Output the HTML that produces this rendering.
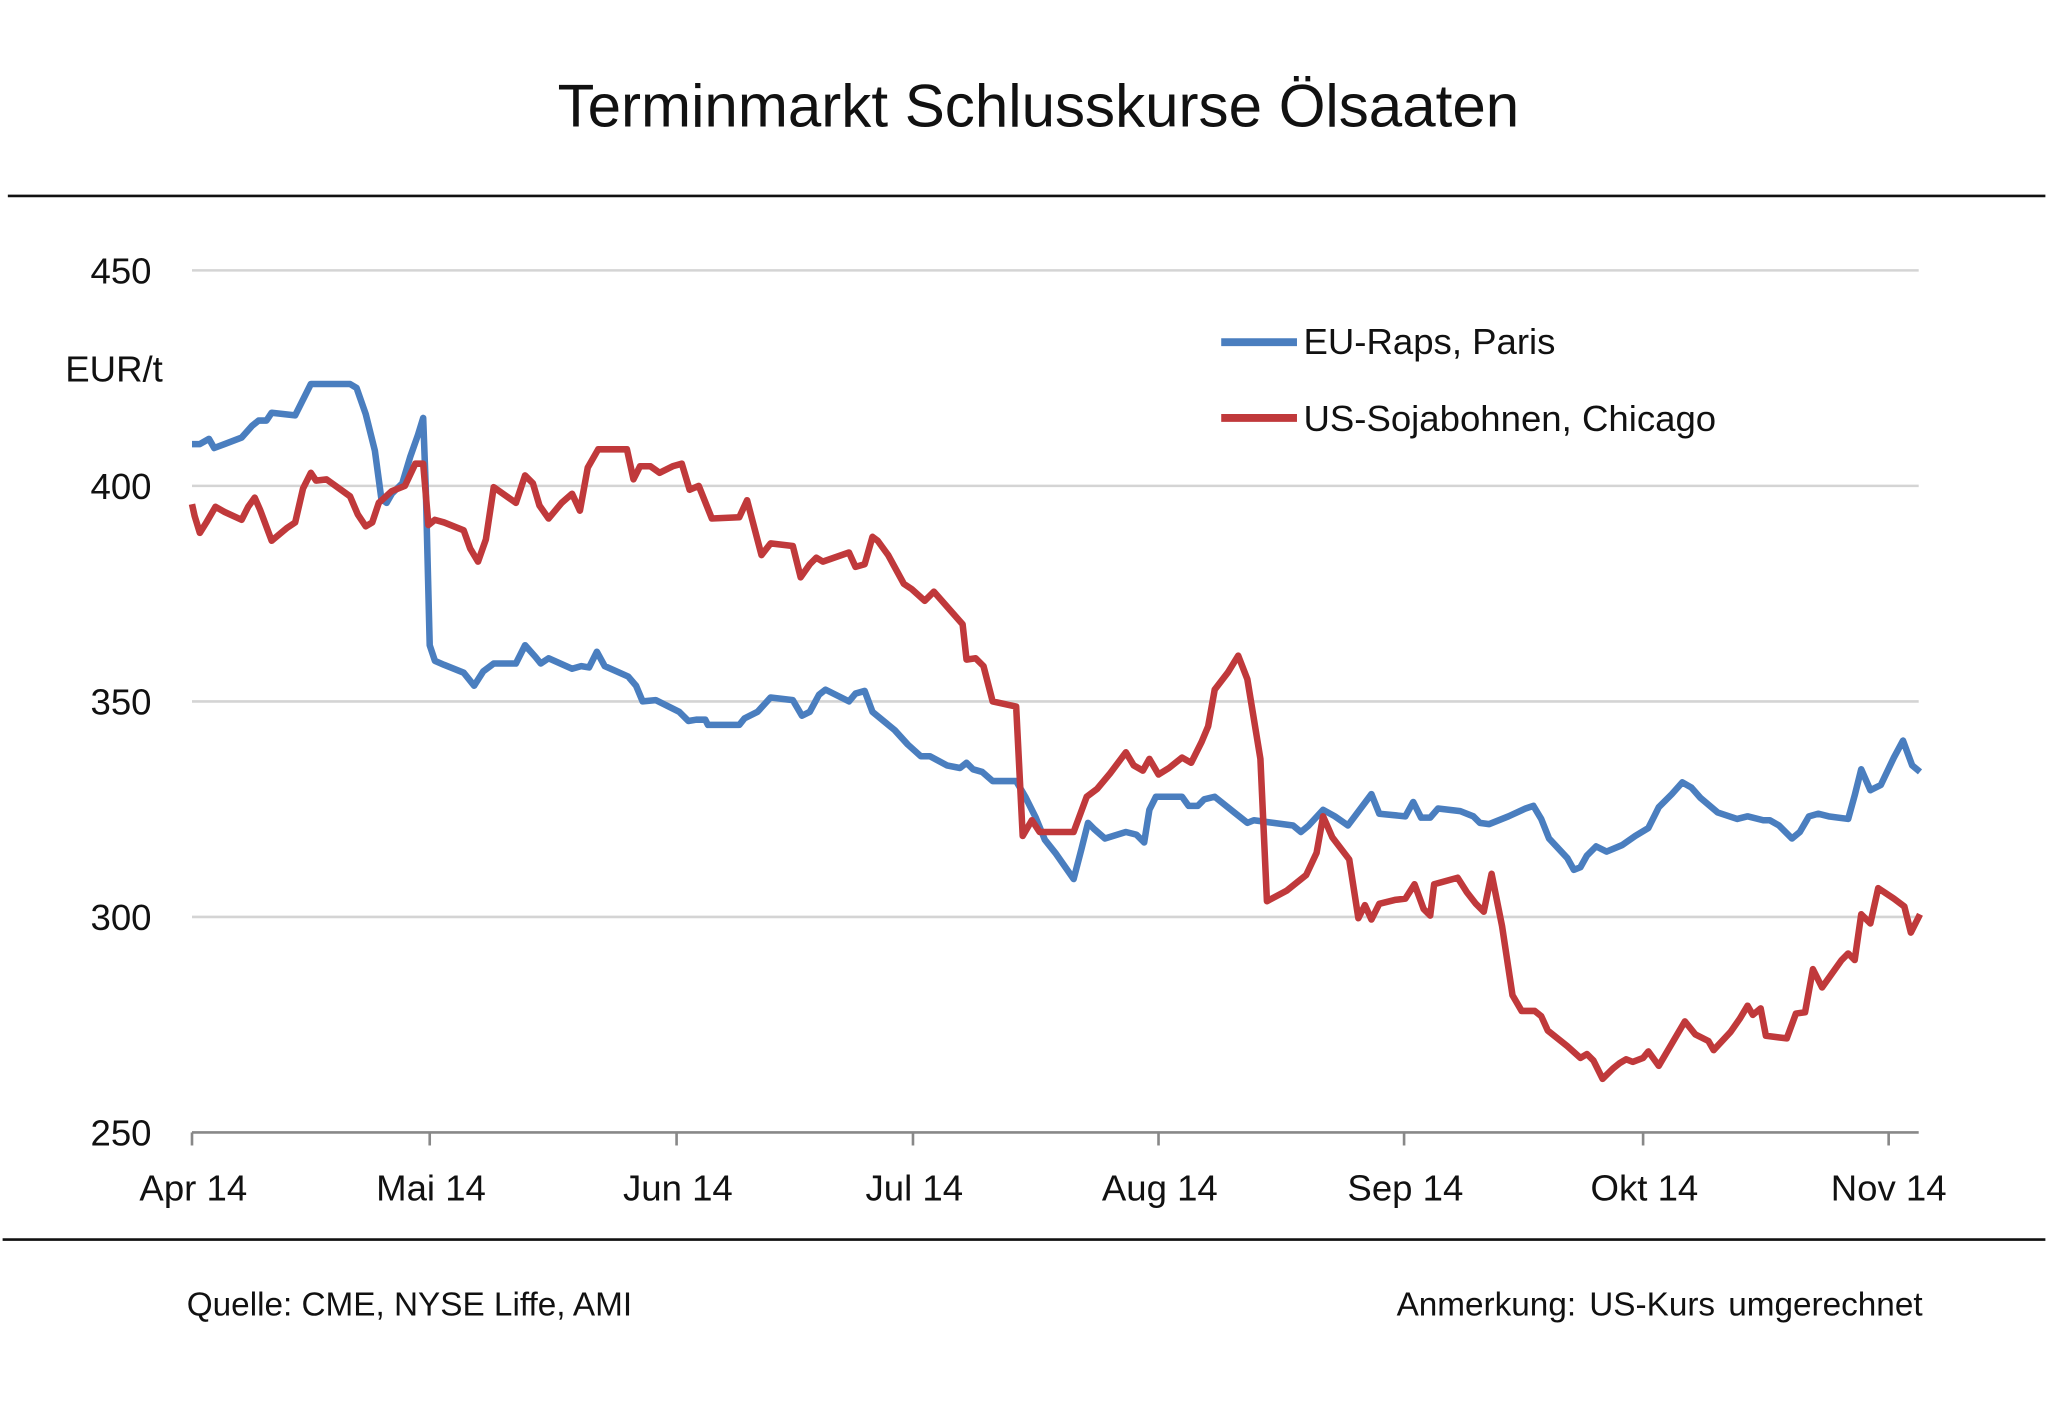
<!DOCTYPE html>
<html><head><meta charset="utf-8"><style>
html,body{margin:0;padding:0;background:#fff;}
svg{display:block;}
text{font-family:"Liberation Sans",sans-serif;fill:#111;}
</style></head><body>
<svg width="2048" height="1402" viewBox="0 0 1568 1073.4" preserveAspectRatio="none">
<text x="795" y="97" font-size="46" text-anchor="middle" font-weight="300">Terminmarkt Schlusskurse  Ölsaaten</text>
<line x1="6" y1="150" x2="1566" y2="150" stroke="#111" stroke-width="2"/>
<line x1="2" y1="949" x2="1566" y2="949" stroke="#111" stroke-width="2"/>
<g stroke="#d4d4d4" stroke-width="2">
<line x1="147" y1="207" x2="1469" y2="207"/>
<line x1="147" y1="372" x2="1469" y2="372"/>
<line x1="147" y1="537" x2="1469" y2="537"/>
<line x1="147" y1="702" x2="1469" y2="702"/>
</g>
<line x1="147" y1="867" x2="1469" y2="867" stroke="#888" stroke-width="2"/>
<g stroke="#888" stroke-width="2">
<line x1="147" y1="867" x2="147" y2="877"/><line x1="329" y1="867" x2="329" y2="877"/>
<line x1="518" y1="867" x2="518" y2="877"/><line x1="699" y1="867" x2="699" y2="877"/>
<line x1="887" y1="867" x2="887" y2="877"/><line x1="1075" y1="867" x2="1075" y2="877"/>
<line x1="1258" y1="867" x2="1258" y2="877"/><line x1="1446" y1="867" x2="1446" y2="877"/>
</g>
<g font-size="28" text-anchor="end">
<text x="116" y="217">450</text><text x="116" y="382">400</text><text x="116" y="547">350</text>
<text x="116" y="712">300</text><text x="116" y="877">250</text>
</g>
<text x="50" y="292" font-size="28">EUR/t</text>
<g font-size="28" text-anchor="middle">
<text x="148" y="919">Apr 14</text><text x="330" y="919">Mai 14</text><text x="519" y="919">Jun 14</text>
<text x="700" y="919">Jul 14</text><text x="888" y="919">Aug 14</text><text x="1076" y="919">Sep 14</text>
<text x="1259" y="919">Okt 14</text><text x="1446" y="919">Nov 14</text>
</g>
<line x1="935" y1="262" x2="993" y2="262" stroke="#4a7ebf" stroke-width="6"/>
<text x="998" y="271" font-size="28">EU-Raps, Paris</text>
<line x1="935" y1="320" x2="993" y2="320" stroke="#c0393b" stroke-width="6"/>
<text x="998" y="330" font-size="28">US-Sojabohnen, Chicago</text>
<g fill="none" stroke-width="5" stroke-linejoin="round">
<polyline stroke="#4a7ebf" points="147,340 153,340 160,336 164,343 172,340 185,335 193,326 198,322 204,322 208,316 226,318 238,294 268,294 273,297 280,317 287,345 292,382 296,385 300,378 308,370 314,350 320,333 324,320 326,374 329,494 333,506 340,509 355,515 363,525 370,514 378,508 395,508 402,494 410,503 414,508 420,504 438,512 445,510 451,511 457,499 463,510 481,518 487,525 492,537 502,536 520,545 527,552 533,551 540,551 542,555 566,555 570,550 580,545 590,534 607,536 614,548 620,545 627,532 632,528 650,537 655,531 662,529 668,545 685,559 695,570 705,579 712,579 725,586 735,588 740,584 745,589 752,591 760,598 778,598 785,610 793,626 800,643 808,653 822,673 828,650 833,630 838,635 846,642 862,637 870,639 876,645 880,620 885,610 905,610 910,617 917,617 922,612 930,610 945,622 955,630 960,628 975,630 990,632 996,637 1002,632 1013,620 1022,625 1032,632 1050,608 1056,623 1076,625 1082,614 1088,626 1095,626 1101,619 1118,621 1128,625 1133,630 1140,631 1155,625 1168,619 1174,617 1180,627 1186,642 1200,657 1205,666 1210,664 1215,655 1222,648 1230,652 1242,647 1252,640 1262,634 1270,618 1280,608 1288,599 1295,603 1302,611 1315,622 1330,627 1338,625 1350,628 1355,628 1362,632 1372,642 1378,637 1385,625 1392,623 1400,625 1415,627 1420,609 1425,589 1432,605 1440,601 1450,580 1457,567 1464,586 1470,591"/>
<polyline stroke="#c0393b" points="147,386 149,395 153,408 158,400 165,388 172,392 185,398 190,388 195,381 199,390 208,414 220,404 226,400 232,374 238,362 242,368 250,367 268,380 274,394 280,403 285,400 290,385 300,376 310,372 318,355 324,355 328,402 333,398 340,400 355,406 360,420 366,430 372,413 378,373 395,385 402,364 408,370 413,387 420,397 430,385 438,378 444,391 450,358 458,344 480,344 485,367 490,357 498,357 505,362 515,357 522,355 528,375 535,372 545,397 566,396 572,383 583,425 590,416 607,418 613,442 620,432 625,427 630,430 650,423 655,434 662,432 668,411 672,414 680,425 692,447 698,451 708,460 715,453 737,478 740,505 747,504 753,510 760,537 778,541 783,640 790,628 796,637 822,637 832,610 840,604 850,592 862,576 868,586 875,590 880,581 887,593 895,588 905,580 912,584 920,568 925,556 930,528 940,515 948,502 955,520 965,581 970,690 985,682 1000,670 1008,653 1013,625 1020,641 1033,658 1040,703 1045,693 1050,704 1056,692 1068,689 1076,688 1083,677 1090,696 1095,701 1098,677 1116,672 1123,683 1130,692 1136,698 1142,669 1150,709 1158,762 1165,774 1175,774 1180,778 1185,789 1200,801 1210,810 1215,807 1220,812 1227,826 1235,818 1240,814 1245,811 1250,813 1258,810 1262,805 1270,816 1290,782 1298,792 1308,797 1312,804 1325,790 1332,780 1338,770 1342,777 1348,772 1352,793 1368,795 1375,776 1382,775 1388,742 1395,756 1410,735 1415,730 1420,735 1425,700 1432,707 1438,680 1450,688 1458,694 1463,714 1470,700"/>
</g>
<text x="143" y="1007" font-size="25.5">Quelle: CME, NYSE Liffe, AMI</text>
<text x="1472" y="1007" font-size="25.5" text-anchor="end" word-spacing="3">Anmerkung:  US-Kurs umgerechnet</text>
</svg>
</body></html>
